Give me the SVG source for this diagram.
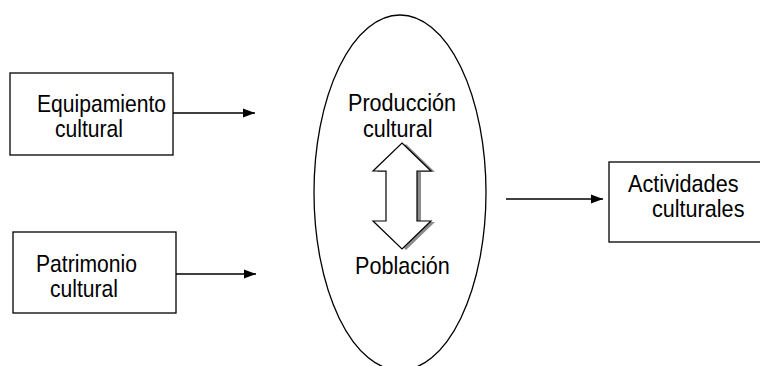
<svg xmlns="http://www.w3.org/2000/svg" width="760" height="366" viewBox="0 0 760 366">
<defs>
<style>
.box{fill:#fff;stroke:#000;stroke-width:1.3}
.lbl{font-family:"Liberation Sans",Arial,sans-serif;font-size:24px;fill:#000}
.conn{stroke:#000;stroke-width:1.3;fill:none}
</style>
<marker id="ah" markerUnits="userSpaceOnUse" markerWidth="13" markerHeight="10" refX="12" refY="5" orient="auto">
<path d="M0,0.5 L12,5 L0,9.5 Z" fill="#000"/>
</marker>
</defs>
<rect width="760" height="366" fill="#fff"/>
<g id="equipamiento">
<rect class="box" x="10" y="73" width="163" height="82"/>
<text class="lbl" transform="translate(37,112) scale(0.88,1)">Equipamiento</text>
<text class="lbl" transform="translate(55,137) scale(0.88,1)">cultural</text>
</g>
<g id="patrimonio">
<rect class="box" x="13" y="232" width="163" height="81"/>
<text class="lbl" transform="translate(36,272) scale(0.88,1)">Patrimonio</text>
<text class="lbl" transform="translate(50,297) scale(0.88,1)">cultural</text>
</g>
<g id="centro">
<ellipse cx="400" cy="192.6" rx="86" ry="177.6" fill="#fff" stroke="#000" stroke-width="1.3"/>
<text class="lbl" transform="translate(348,111) scale(0.9,1)">Producción</text>
<text class="lbl" transform="translate(363,137) scale(0.9,1)">cultural</text>
<polygon points="402,143 431,171 417,171 417,221 431,221 402,249 373,221 386,221 386,171 373,171" fill="#8c8c8c" transform="translate(4,1)"/>
<polygon points="402,143 431,171 417,171 417,221 431,221 402,249 373,221 386,221 386,171 373,171" fill="#fff" stroke="#000" stroke-width="1.2"/>
<text class="lbl" transform="translate(355,274) scale(0.9,1)">Población</text>
</g>
<g id="actividades">
<rect class="box" x="609" y="162" width="155" height="80"/>
<text class="lbl" transform="translate(628,192) scale(0.9,1)">Actividades</text>
<text class="lbl" transform="translate(652,217) scale(0.9,1)">culturales</text>
</g>
<g id="connectors">
<line class="conn" x1="173" y1="113" x2="255" y2="113" marker-end="url(#ah)"/>
<line class="conn" x1="176" y1="274" x2="256" y2="274" marker-end="url(#ah)"/>
<line class="conn" x1="506" y1="199" x2="603" y2="199" marker-end="url(#ah)"/>
</g>
</svg>
